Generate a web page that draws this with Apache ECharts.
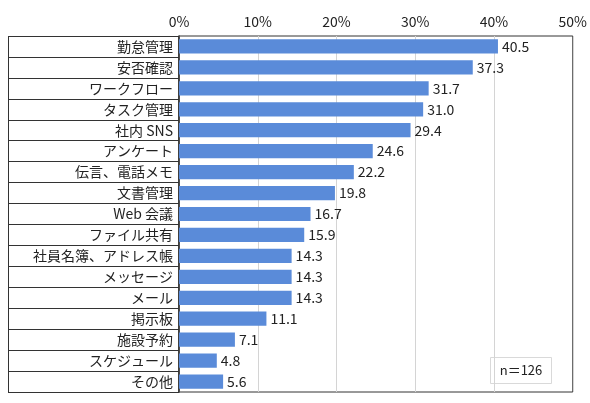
<!DOCTYPE html>
<html>
<head>
<meta charset="utf-8">
<script src="https://cdn.jsdelivr.net/npm/echarts@6/dist/echarts.min.js"></script>
<style>
  html, body { margin: 0; padding: 0; background: #fff; }
  #chart { width: 590px; height: 403px; }
</style>
</head>
<body>
<div id="chart"></div>
<script>
// Data
var categories = ['勤怠管理', '安否確認', 'ワークフロー', 'タスク管理', '社内 SNS', 'アンケート',
  '伝言、電話メモ', '文書管理', 'Web 会議', 'ファイル共有', '社員名簿、アドレス帳',
  'メッセージ', 'メール', '掲示板', '施設予約', 'スケジュール', 'その他'];
var values = [40.5, 37.3, 31.7, 31.0, 29.4, 24.6, 22.2, 19.8, 16.7, 15.9, 14.3, 14.3, 14.3, 11.1, 7.1, 4.8, 5.6];
var sampleNote = 'n＝126';

var font = '"Noto Sans CJK JP", "Noto Sans", sans-serif';

var chart = echarts.init(document.getElementById('chart'));

var option = {
  animation: false,
  textStyle: { fontFamily: font },
  grid: {
    left: 179, right: 16, top: 36, bottom: 11,
    show: true, borderColor: '#333', borderWidth: 1
  },
  xAxis: {
    type: 'value',
    position: 'top',
    min: 0, max: 50, interval: 10,
    axisLine: { show: false },
    axisTick: { show: false },
    axisLabel: { formatter: '{value}%', color: '#222', fontSize: 14, margin: 7, fontFamily: font },
    splitLine: { lineStyle: { color: '#d4d4d4' } }
  },
  yAxis: {
    type: 'category',
    inverse: true,
    data: categories,
    axisLine: { lineStyle: { color: '#222', width: 1.5 } },
    axisTick: { show: true, length: 171, lineStyle: { color: '#333' } },
    axisLabel: { color: '#222', fontSize: 14, margin: 6, fontFamily: font }
  },
  series: [{
    type: 'bar',
    data: values,
    barCategoryGap: '32%',
    itemStyle: { color: '#5a8bd9' },
    label: {
      show: true,
      position: 'right',
      distance: 4,
      color: '#222',
      fontSize: 14,
      fontFamily: font,
      formatter: function (p) { return p.value.toFixed(1); }
    }
  }],
  graphic: [
    {
      type: 'line',
      shape: { x1: 8.5, y1: 36, x2: 8.5, y2: 392 },
      style: { stroke: '#333', lineWidth: 1 }
    },
    {
      type: 'group',
      left: 490, top: 357,
      children: [
        { type: 'rect', shape: { x: 0, y: 0, width: 61, height: 26 },
          style: { fill: '#fff', stroke: '#d9d9d9', lineWidth: 1 } },
        { type: 'text', x: 30.5, y: 13,
          style: { text: sampleNote, fill: '#222', fontSize: 13, fontFamily: font,
            textAlign: 'center', textVerticalAlign: 'middle' } }
      ]
    }
  ]
};

option && chart.setOption(option);
</script>
</body>
</html>
